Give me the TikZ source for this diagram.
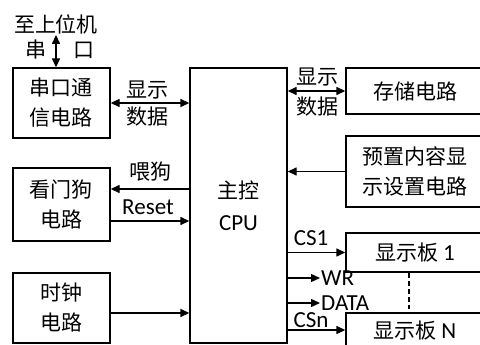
\documentclass[tikz,border=0pt]{standalone}
\usepackage{fontspec}
\setmainfont{Carlito}
\newfontfamily\cjk{Noto Sans CJK SC}
\usetikzlibrary{arrows.meta}

\begin{document}
\begin{tikzpicture}[x=1pt,y=-1pt,
  block/.style={draw,line width=1.4pt,align=center,inner sep=0pt,
    font=\fontsize{21}{30}\selectfont\cjk},
  unit/.style={block,minimum width=97pt},
  panel/.style={block,minimum width=138pt},
  caption/.style={align=center,inner sep=1pt,
    font=\fontsize{21}{28}\selectfont\cjk},
  signal/.style={inner sep=1pt,font=\fontsize{23}{26}\selectfont},
  link/.style={-{Triangle[length=9pt,width=8pt]},line width=1.4pt},
  duplex/.style={{Triangle[length=9pt,width=8pt]}-{Triangle[length=9pt,width=8pt]},
    line width=1.4pt}
]
% pixel grid of the original, y running downwards
\clip (0,0) rectangle (480,345);

\node[unit,minimum height=70pt] (ser) at (61.5,103) {串口通\\信电路};
\node[unit,minimum height=73pt] (wdog) at (61.5,204.5) {看门狗\\电路};
\node[unit,minimum height=70pt] (clk) at (61.5,308) {时钟\\电路};
\node[block,minimum width=97pt,minimum height=275pt] (cpu) at (238.5,205.5)
  {主控\\[2pt]{\rmfamily\fontsize{23}{26}\selectfont CPU}};
\node[panel,minimum height=46pt] (store) at (415,91) {存储电路};
\node[panel,minimum height=71pt] (preset) at (415,171.5) {预置内容显\\示设置电路};
\node[panel,minimum height=39pt] (disp1) at (415,252.5)
  {显示板 {\rmfamily\fontsize{23}{26}\selectfont 1}};
\node[panel,minimum height=36pt] (dispN) at (415,331)
  {显示板 {\rmfamily\fontsize{23}{26}\selectfont N}};

\node[caption] (host) at (56,24) {至上位机};
\node[caption] (host-l) at (36,50) {串};
\node[caption] (host-r) at (84,50) {口};
\node[caption] (ser-up) at (147,90) {显示};
\node[caption] (ser-dn) at (147,117) {数据};
\node[caption] (store-up) at (317,77) {显示};
\node[caption] (store-dn) at (317,107) {数据};
\node[caption] (feed) at (150,172) {喂狗};
\node[signal] (reset) at (148,207) {Reset};
\node[signal] (cs1) at (311,238) {CS1};
\node[signal] (csn) at (311,320) {CSn};
\node[signal,anchor=west] (wr) at (320,278) {WR};
\node[signal,anchor=west] (data) at (320,303) {DATA};

\draw[duplex] (host.south) -- (host.south |- ser.north);
\draw[duplex] (ser.east) -- (ser.east -| cpu.west);
\draw[duplex] (cpu.east |- store.west) -- (store.west);
\draw[link] (preset.west) -- (preset.west -| cpu.east);
\draw[link] (cpu.west |- 0,189) -- (wdog.east |- 0,189);
\draw[link] (wdog.east |- 0,221) -- (cpu.west |- 0,221);
\draw[link] (clk.east |- 0,313) -- (cpu.west |- 0,313);
\draw[link] (cpu.east |- disp1.west) -- (disp1.west);
\draw[link] (cpu.east |- wr.west) -- (wr.west);
\draw[link] (cpu.east |- data.west) -- (data.west);
\draw[link] (cpu.east |- 0,330) -- (dispN.west |- 0,330);
\draw[line width=1.4pt,dash pattern=on 5pt off 3pt]
  ([xshift=-6pt]disp1.south) -- ([xshift=-6pt,yshift=3pt]dispN.north);
\end{tikzpicture}
\end{document}
